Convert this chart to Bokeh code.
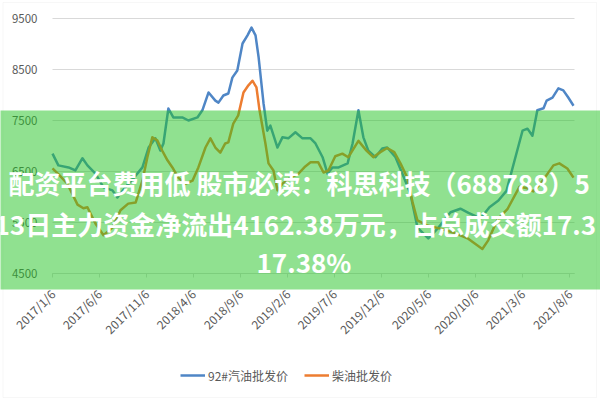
import pandas as pd
from math import pi
from bokeh.plotting import figure
from bokeh.models import Range1d, FixedTicker, BoxAnnotation, Label, Legend, LegendItem
from bokeh.embed import file_html
from bokeh.resources import INLINE

# ---------------- data ----------------
gas_dates = [
    "2017-01-06", "2017-01-25", "2017-02-27", "2017-03-21", "2017-04-13", "2017-04-29",
    "2017-05-25", "2017-06-20", "2017-07-19", "2017-08-04", "2017-08-30", "2017-10-02",
    "2017-10-24", "2017-11-13", "2017-12-05", "2017-12-21", "2017-12-31", "2018-01-16",
    "2018-02-01", "2018-03-02", "2018-03-22", "2018-04-20", "2018-05-06", "2018-05-26",
    "2018-06-17", "2018-06-27", "2018-07-13", "2018-07-29", "2018-08-11", "2018-08-27",
    "2018-09-13", "2018-09-29", "2018-10-12", "2018-10-25", "2018-11-04", "2018-11-20",
    "2018-12-02", "2018-12-12", "2019-01-04", "2019-01-20", "2019-02-08", "2019-03-03",
    "2019-03-26", "2019-04-21", "2019-05-07", "2019-05-30", "2019-06-15", "2019-07-01",
    "2019-07-21", "2019-08-19", "2019-09-04", "2019-09-23", "2019-10-09", "2019-10-25",
    "2019-11-17", "2019-12-09", "2019-12-25", "2020-01-21", "2020-02-16", "2020-03-09",
    "2020-04-01", "2020-05-06", "2020-06-08", "2020-07-17", "2020-08-18", "2020-09-13",
    "2020-10-22", "2020-11-20", "2020-12-19", "2021-01-14", "2021-02-12", "2021-03-07",
    "2021-03-23", "2021-04-08", "2021-04-24", "2021-05-14", "2021-05-24", "2021-06-12",
    "2021-07-01", "2021-07-17", "2021-08-02", "2021-08-19",
]
gas_prices = [
    6850, 6620, 6580, 6520, 6760, 6620,
    6460, 6190, 6130, 5990, 6190, 6420,
    6580, 6970, 7150, 6910, 7050, 7735,
    7560, 7560, 7500, 7560, 7700, 8050,
    7890, 7850, 7990, 8030, 8340, 8480,
    9010, 9170, 9320, 9170, 8740, 7830,
    7300, 7400, 6970, 7170, 7150, 7270,
    7150, 7150, 7050, 6780, 6460, 6580,
    6580, 6660, 7050, 7700, 7170, 6910,
    6780, 6950, 6970, 6780, 6400, 6070,
    5400, 5190, 5400, 5700, 5770, 5690,
    5580, 5800, 5930, 6120, 6780, 7300,
    7340, 7200, 7700, 7740, 7890, 7950,
    8130, 8090, 7950, 7790,
]
diesel_dates = [
    "2017-01-06", "2017-01-25", "2017-02-23", "2017-03-28", "2017-04-16", "2017-04-29",
    "2017-05-25", "2017-06-20", "2017-07-19", "2017-08-14", "2017-09-08", "2017-10-02",
    "2017-10-24", "2017-11-09", "2017-11-25", "2017-12-11", "2017-12-27", "2018-01-13",
    "2018-01-29", "2018-02-17", "2018-03-12", "2018-04-04", "2018-04-23", "2018-05-16",
    "2018-06-01", "2018-06-17", "2018-07-03", "2018-07-19", "2018-07-29", "2018-08-14",
    "2018-08-30", "2018-09-16", "2018-10-02", "2018-10-15", "2018-10-28", "2018-11-07",
    "2018-11-26", "2018-12-06", "2018-12-22", "2019-01-04", "2019-01-20", "2019-02-15",
    "2019-03-13", "2019-04-04", "2019-04-21", "2019-05-16", "2019-06-02", "2019-06-18",
    "2019-07-10", "2019-08-02", "2019-08-21", "2019-09-23", "2019-10-19", "2019-11-10",
    "2019-12-03", "2019-12-25", "2020-01-17", "2020-02-06", "2020-02-28", "2020-03-16",
    "2020-04-01", "2020-05-03", "2020-06-14", "2020-07-27", "2020-09-10", "2020-10-28",
    "2020-11-16", "2020-12-16", "2021-01-17", "2021-02-25", "2021-03-23", "2021-04-11",
    "2021-05-04", "2021-06-15", "2021-07-04", "2021-07-30", "2021-08-19",
]
diesel_prices = [
    6560, 6450, 6260, 5850, 5780, 5800,
    5480, 5250, 5400, 5740, 5870, 5890,
    6320, 6780, 7170, 7110, 6910, 6720,
    6580, 6380, 6260, 6320, 6580, 6970,
    7150, 6970, 6870, 7050, 7070, 7440,
    7600, 8050, 8190, 8280, 8150, 7700,
    7050, 6660, 6520, 6130, 6260, 6380,
    6460, 6600, 6680, 6680, 6480, 6520,
    6800, 6850, 6780, 7100, 6910, 6780,
    6880, 6960, 6880, 6660, 6380, 5900,
    5540, 5440, 5380, 5300, 5190, 4980,
    5150, 5560, 5760, 6200, 6170, 6110,
    6260, 6620, 6660, 6560, 6380,
]
series_names = ["92#汽油批发价", "柴油批发价"]
x_tick_labels = ["2017/1/6", "2017/6/6", "2017/11/6", "2018/4/6", "2018/9/6", "2019/2/6",
                 "2019/7/6", "2019/12/6", "2020/5/6", "2020/10/6", "2021/3/6", "2021/8/6"]
y_ticks = [4500, 5500, 6500, 7500, 8500, 9500]
banner_lines = ["配资平台费用低 股市必读：科思科技（688788）5",
                "13日主力资金净流出4162.38万元，占总成交额17.3",
                "17.38%"]

# ---------------- helpers ----------------
origin = pd.Timestamp("2017-01-06")


def to_days(ds, fmt="%Y-%m-%d"):
    return [(pd.to_datetime(d, format=fmt) - origin).days for d in ds]


gx = to_days(gas_dates)
dx = to_days(diesel_dates)
tick_pos = to_days(x_tick_labels, fmt="%Y/%m/%d")

# chart-area geometry in page pixels (the frame is the whole 600x400 canvas)
W, H = 600, 400
AL, AR, AT, AB = 52, 574, 18, 273
px_per_day = (569 - AL) / tick_pos[-1]
y_lo, y_hi = y_ticks[0], y_ticks[-1]


def page_x(px):
    return (px - AL) / px_per_day


def page_y(py):
    return y_hi - (py - AT) / (AB - AT) * (y_hi - y_lo)


x_end = page_x(AR)

FONT = "Noto Sans CJK SC"
GRAY = "#595959"
GRID = "#D9D9D9"

p = figure(width=W, height=H, output_backend="svg", toolbar_location=None,
           x_range=Range1d(page_x(0), page_x(W)), y_range=Range1d(page_y(H), page_y(0)),
           min_border=0)
p.outline_line_color = None
p.background_fill_color = "white"
p.border_fill_color = "white"
p.xgrid.visible = False
p.ygrid.visible = False

# horizontal gridlines across the chart area
p.segment(x0=[0] * len(y_ticks), x1=[x_end] * len(y_ticks), y0=y_ticks, y1=y_ticks,
          line_color=GRID, line_width=1)

# x axis, pinned at the lowest gridline
xa = p.xaxis[0]
xa.fixed_location = y_lo
xa.bounds = (0, x_end)
xa.ticker = FixedTicker(ticks=tick_pos)
xa.major_label_overrides = {t: l for t, l in zip(tick_pos, x_tick_labels)}
xa.major_label_orientation = pi / 4
xa.major_label_text_font = FONT
xa.major_label_text_font_size = "12px"
xa.major_label_text_color = GRAY
xa.axis_line_color = GRID
xa.major_tick_line_color = GRID
xa.major_tick_in = 0
xa.major_tick_out = 4
xa.minor_tick_line_color = None
xa.major_label_standoff = 14

# y axis, pinned at the chart-area's left edge
ya = p.yaxis[0]
ya.fixed_location = 0
ya.ticker = FixedTicker(ticks=y_ticks)
ya.axis_line_color = None
ya.major_tick_line_color = None
ya.minor_tick_line_color = None
ya.major_label_text_font = FONT
ya.major_label_text_font_size = "11.5px"
ya.major_label_text_color = GRAY
ya.major_label_standoff = 9

# lines
r1 = p.line(gx, gas_prices, line_color="#4F86C6", line_width=2.5, line_join="round")
r2 = p.line(dx, diesel_prices, line_color="#ED7D31", line_width=2.5, line_join="round")

legend = Legend(items=[LegendItem(label=series_names[0], renderers=[r1]),
                       LegendItem(label=series_names[1], renderers=[r2])],
                orientation="horizontal", location=(180, H - 385),
                padding=0, margin=0, spacing=16, label_standoff=3,
                glyph_width=25, glyph_height=20, label_height=20,
                label_text_font=FONT, label_text_font_size="12px",
                label_text_color=GRAY, background_fill_alpha=0,
                border_line_color=None)
p.add_layout(legend, "center")

# outer chart border
p.add_layout(BoxAnnotation(left=page_x(2.5), right=page_x(596), top=page_y(2), bottom=page_y(397),
                           fill_alpha=0, line_color="#E3E3E3", line_width=1))

# overlay banner
p.add_layout(BoxAnnotation(left=page_x(-20), right=page_x(W + 20),
                           top=page_y(110), bottom=page_y(289),
                           fill_color="#22C322", fill_alpha=0.5,
                           line_color=None, level="overlay"))
for txt, px, py in [(banner_lines[0], 8, 182), (banner_lines[1], -6, 223), (banner_lines[2], 256, 261)]:
    p.add_layout(Label(x=page_x(px), y=page_y(py), text=txt, text_align="left",
                       text_baseline="middle", text_color="white",
                       text_font=FONT, text_font_style="bold",
                       text_font_size="26px", level="overlay"))

open("out.html", "w").write(file_html(p, INLINE))
